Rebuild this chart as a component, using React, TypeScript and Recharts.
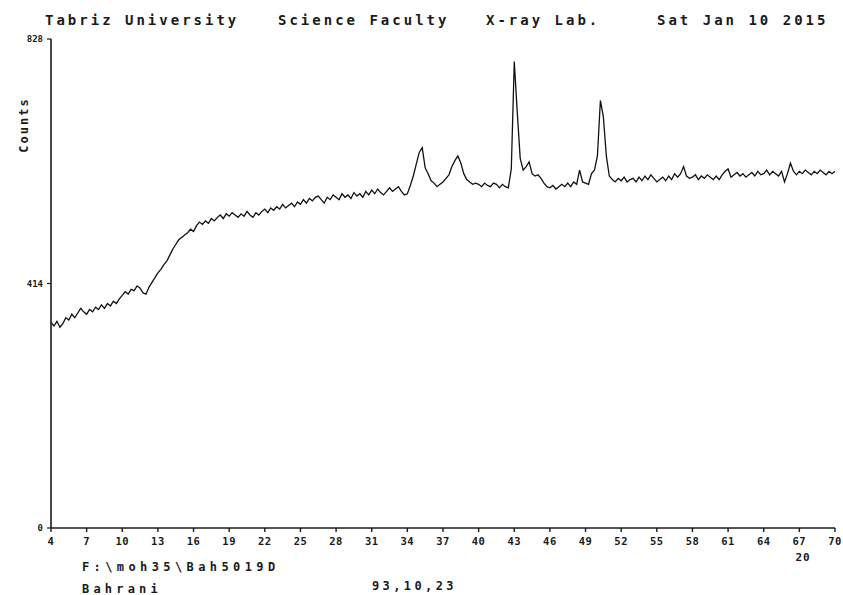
import { LineChart, Line, XAxis, YAxis } from 'recharts'

const MONO = '"DejaVu Sans Mono", monospace'
const INK = '#1a1a1a'

// 2-theta scan: 4° .. 70°, step 0.25°
const START_ANGLE = 4
const STEP = 0.25

// counts, 4 per degree
const countsLow = [
  348, 342, 350, 340, 346, 356, 352, 362, 356, 364, 372, 366,
  362, 370, 366, 374, 370, 378, 372, 380, 376, 384, 380, 388,
  394, 400, 396, 404, 402, 410, 406, 398, 396, 408, 416, 424,
  432, 438, 446, 452, 462, 472, 480, 488, 492, 496, 500, 506,
  502, 512, 518, 514, 520, 516, 524, 520, 526, 530, 524, 532,
  528, 534, 530, 526,
]
const countsMid = [
  532, 528, 536, 530, 526, 534, 530, 536, 540, 534, 542, 538,
  544, 540, 548, 542, 546, 550, 544, 552, 548, 556, 550, 558,
  554, 560, 562, 556, 550, 560, 556, 564, 560, 556, 566, 560,
  564, 558, 568, 562, 566, 560, 570, 564, 572, 566, 574, 568,
  564, 570, 576, 570, 574, 578, 570, 564,
]
const countsPeaks = [
  566, 580, 596, 616, 636, 644, 610, 600, 588, 584, 578, 582,
  586, 592, 598, 612, 622, 630, 618, 600, 590, 586, 582, 584,
  582, 578, 584, 580, 578, 584, 582, 576, 582, 578, 576, 608,
  790, 704, 626, 606, 612, 620, 600, 596, 598, 592, 584, 578,
  576, 580, 574, 578, 582, 578, 584, 578, 586, 582, 606, 586,
  584, 582, 600, 606, 630, 724, 696, 630, 596, 590, 586, 592,
]
const countsHigh = [
  588, 594, 586, 590, 592, 586, 594, 588, 596, 590, 598, 592,
  586, 590, 594, 588, 596, 590, 600, 594, 600, 612, 596, 592,
  594, 598, 590, 596, 592, 598, 594, 590, 596, 590, 598, 604,
  608, 594, 598, 602, 596, 600, 594, 598, 602, 596, 604, 598,
  600, 606, 598, 604, 600, 596, 604, 586, 600, 618, 604, 598,
  604, 600, 606, 602, 598, 604, 600, 606, 602, 598, 604, 600,
  604,
]

const xTicks = [4, 7, 10, 13, 16, 19, 22, 25, 28, 31, 34, 37, 40, 43, 46, 49, 52, 55, 58, 61, 64, 67, 70]
const yTicks = [0, 414, 828]

const counts = [...countsLow, ...countsMid, ...countsPeaks, ...countsHigh]
const data = counts.map((c, i) => ({ angle: START_ANGLE + i * STEP, counts: c }))

const XTick = ({ x, y, payload }: any) => (
  <text x={x} y={y + 11} textAnchor="middle" fontFamily={MONO} fontSize={10.5}
    fontWeight="bold" letterSpacing={0.5} fill={INK}>
    {payload.value}
  </text>
)

const YTick = ({ x, y, payload }: any) => (
  <text x={x - 2} y={y + 3} textAnchor="end" fontFamily={MONO} fontSize={9}
    fontWeight="bold" fill={INK}>
    {payload.value}
  </text>
)

const txt = { fontFamily: MONO, fontWeight: 'bold' as const, fill: INK }

export default function App() {
  return (
    <div style={{ position: 'absolute', left: 0, top: 0, width: 843, height: 595, background: '#fff' }}>
      <LineChart width={843} height={595} data={data}
        margin={{ top: 39, right: 8, bottom: 37, left: 21 }}>
        <XAxis dataKey="angle" type="number" domain={[4, 70]} ticks={xTicks}
          height={30} tickSize={4} tick={XTick} interval={0}
          axisLine={{ stroke: INK, strokeWidth: 1.6 }} tickLine={{ stroke: INK, strokeWidth: 1.4 }} />
        <XAxis xAxisId="top" orientation="top" dataKey="angle" type="number" domain={[4, 70]}
          ticks={xTicks} height={0} mirror tickSize={4} tick={() => <g />} interval={0}
          axisLine={{ stroke: INK, strokeWidth: 1.8 }} tickLine={{ stroke: INK, strokeWidth: 1.4 }} />
        <YAxis domain={[0, 828]} ticks={yTicks} width={30} tickSize={4} tick={YTick} interval={0}
          axisLine={{ stroke: INK, strokeWidth: 1.6 }} tickLine={{ stroke: INK, strokeWidth: 1.2 }} />
        <YAxis yAxisId="right" orientation="right" domain={[0, 828]} width={0}
          tick={false} tickLine={false} axisLine={{ stroke: INK, strokeWidth: 1.6 }} />
        <Line type="linear" dataKey="counts" stroke="#111" strokeWidth={1.3}
          dot={false} isAnimationActive={false} />
      </LineChart>
      <svg width={843} height={595} style={{ position: 'absolute', left: 0, top: 0, pointerEvents: 'none' }}>
        <g {...txt} fontSize={14} letterSpacing={3}>
          <text x={45} y={25}>Tabriz University</text>
          <text x={278} y={25}>Science Faculty</text>
          <text x={486} y={25}>X-ray Lab.</text>
          <text x={657} y={25}>Sat Jan 10 2015</text>
        </g>
        <text {...txt} x={28} y={125} fontSize={12} letterSpacing={2} textAnchor="middle"
          transform="rotate(-90, 28, 125)">Counts</text>
        <text {...txt} x={803} y={561} fontSize={11} textAnchor="middle" letterSpacing={1}>20</text>
        <text {...txt} x={82} y={571} fontSize={12} letterSpacing={4.4}>F:\moh35\Bah5019D</text>
        <text {...txt} x={82} y={593} fontSize={12} letterSpacing={4.2}>Bahrani</text>
        <text {...txt} x={372} y={590} fontSize={12} letterSpacing={3.4}>93,10,23</text>
      </svg>
    </div>
  )
}
